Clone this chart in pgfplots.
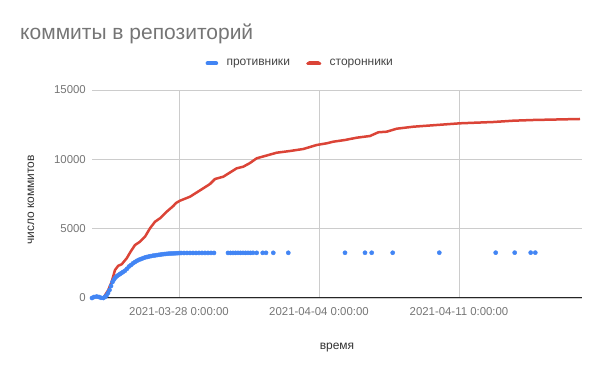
\documentclass[border=0pt]{standalone}
\usepackage{fontspec}
\setmainfont{Liberation Sans}
\usepackage{pgfplots}
\pgfplotsset{compat=1.18}
\definecolor{gblue}{HTML}{4285F4}
\definecolor{gred}{HTML}{DB4437}
\definecolor{ttl}{HTML}{757575}
\definecolor{tck}{HTML}{757575}
\definecolor{lbl}{HTML}{333333}
\definecolor{leg}{HTML}{444444}
\definecolor{grd}{HTML}{CCCCCC}
\begin{document}
\begin{tikzpicture}
\path[use as bounding box] (0,0) rectangle (600bp,371bp);
\begin{axis}[
  at={(92bp,73bp)}, anchor=south west,
  scale only axis, width=490bp, height=208bp,
  xmin=-4.35, xmax=20.15, ymin=0, ymax=15000,
  xtick={0,7,14},
  xticklabels={2021-03-28 0:00:00,2021-04-04 0:00:00,2021-04-11 0:00:00},
  ytick={0,5000,10000,15000},
  scaled y ticks=false,
  /pgf/number format/1000 sep={},
  /pgf/number format/assume math mode=true,
  axis line style={draw=none},
  tick style={draw=none},
  grid=major,
  major grid style={color=grd, line width=0.7bp},
  extra y ticks={0}, extra y tick labels={},
  extra y tick style={grid=major, major grid style={color=black!85, line width=1bp}},
  ticklabel style={font=\fontsize{11.4bp}{13bp}\selectfont, text=tck},
  xticklabel style={inner sep=0pt, anchor=north, yshift=-9.2bp},
  yticklabel style={inner sep=0pt, anchor=east, xshift=-6bp},
  legend columns=2,
  legend style={draw=none, fill=none, at={(0.423,1.128)}, anchor=center,
    font=\fontsize{12bp}{14bp}\selectfont, text=leg,
    nodes={inner sep=0pt},
    /tikz/column 1/.style={column sep=8.3bp},
    /tikz/column 2/.style={column sep=16.3bp},
    /tikz/column 3/.style={column sep=8.3bp}},
]
\addplot[only marks, mark=*, mark size=2.1bp, color=gblue, draw=none,
  legend image code/.code={\draw[line width=4.2bp, line cap=round, gblue] (2.1bp,0bp) -- (10.5bp,0bp); \path (0bp,0bp) rectangle (12.6bp,0bp);}]
coordinates {
(-4.35,0) (-4.25,72) (-4.115,108) (-4.0,72) (-3.9,14) (-3.785,0) (-3.7,72)
(-3.625,180) (-3.55,361) (-3.475,577) (-3.4,865) (-3.325,1154) (-3.25,1334)
(-3.175,1478) (-3.1,1587) (-3.025,1659) (-2.95,1731) (-2.875,1803) (-2.8,1875)
(-2.7,1969) (-2.6,2106) (-2.5,2272) (-2.4,2380) (-2.3,2502) (-2.2,2596)
(-2.1,2683) (-2.0,2755) (-1.9,2812) (-1.8,2870) (-1.7,2921) (-1.6,2957)
(-1.5,2993) (-1.4,3022) (-1.3,3050) (-1.2,3072) (-1.1,3094) (-1.0,3115)
(-0.9,3137) (-0.8,3159) (-0.7,3173) (-0.6,3187) (-0.5,3202) (-0.4,3209)
(-0.3,3216) (-0.2,3223) (-0.1,3231) (0,3238) (0.1,3245) (0.25,3245)
(0.4,3246) (0.55,3246) (0.7,3247) (0.85,3247) (1.0,3248) (1.15,3248)
(1.3,3249) (1.45,3249) (1.6,3250) (1.75,3250)
(2.45,3252) (2.575,3252) (2.7,3252) (2.825,3253) (2.95,3253) (3.075,3253)
(3.2,3254) (3.325,3254) (3.45,3254) (3.575,3255) (3.7,3256) (3.885,3256)
(4.185,3257) (4.35,3258) (4.715,3258) (5.465,3260) (8.3,3262) (9.3,3263)
(9.635,3263) (10.685,3264) (13.015,3266) (15.835,3268) (16.785,3269)
(17.585,3270) (17.815,3270)
};
\addlegendentry{противники}
\addplot[color=gred, line width=2.5bp, line join=round, no marks,
  legend image code/.code={\draw[line width=4.2bp, line cap=round, gred] (2.1bp,0bp) -- (10.5bp,0bp); \path (0bp,0bp) rectangle (12.6bp,0bp);}]
coordinates {
(-4.35,0) (-4.115,94) (-3.785,0) (-3.535,577) (-3.365,1175) (-3.2,2019)
(-3.035,2329) (-2.865,2430) (-2.615,2863) (-2.4,3389) (-2.2,3822)
(-1.95,4060) (-1.7,4421) (-1.45,5026) (-1.2,5502) (-0.95,5748)
(-0.615,6224) (-0.285,6635) (-0.15,6851) (0.05,7017) (0.55,7305)
(1.215,7911) (1.55,8221) (1.8,8582) (2.215,8748) (2.885,9353)
(3.215,9469) (3.55,9736) (3.885,10075) (4.885,10478) (5.55,10601)
(6.215,10745) (6.885,11034) (7.385,11156) (7.715,11272) (8.3,11394)
(8.885,11560) (9.55,11683) (9.965,11950) (10.385,11993) (10.885,12209)
(11.715,12353) (12.885,12476) (14.05,12598) (15.715,12692) (16.715,12786)
(17.715,12837) (20.05,12909)
};
\addlegendentry{сторонники}
\end{axis}
\node[anchor=base west, inner sep=0pt, text=ttl, font=\fontsize{21bp}{24bp}\selectfont] at (20bp,331bp) {коммиты в репозиторий};
\node[anchor=base, inner sep=0pt, text=lbl, font=\fontsize{12bp}{14bp}\selectfont] at (337bp,22bp) {время};
\node[anchor=base, inner sep=0pt, rotate=90, text=lbl, font=\fontsize{12bp}{14bp}\selectfont] at (34bp,171bp) {число коммитов};
\end{tikzpicture}
\end{document}
